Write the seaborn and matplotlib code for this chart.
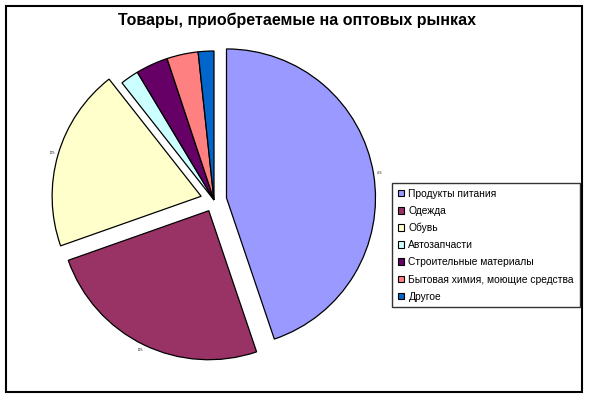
import matplotlib
matplotlib.use("Agg")
import matplotlib.pyplot as plt
import seaborn as sns
from matplotlib.patches import Rectangle

sns.set_theme(style="white")
plt.rcParams['font.family'] = ['Liberation Sans', 'DejaVu Sans']
plt.rcParams['text.color'] = 'black'

# data (percent of answers)
categories = ['Продукты питания', 'Одежда', 'Обувь', 'Автозапчасти',
              'Строительные материалы', 'Бытовая химия, моющие средства', 'Другое']
shares = [44.8, 24.8, 19.8, 2.0, 3.5, 3.4, 1.7]
colors = ['#9999FF', '#993366', '#FFFFCC', '#CCFFFF', '#660066', '#FF8080', '#0066CC']
explode = [0.085, 0.08, 0.09, 0, 0, 0, 0]

W, H = 589, 398
fig = plt.figure(figsize=(W / 100, H / 100), dpi=100)
fig.patch.set_facecolor('white')

# pie radius ~150 px, centre ~ (215, 201) px
r = 149
lim = 1.2
side = 2 * lim * r
cx, cy = 214, 200
ax = fig.add_axes([(cx - side / 2) / W, (H - cy - side / 2) / H, side / W, side / H])


def pct(v):
    return f'{v:.0f}%' if v > 10 else ''


wedges, texts, autotexts = ax.pie(
    shares, colors=colors, explode=explode, startangle=90, counterclock=False,
    radius=1, autopct=pct, pctdistance=1.04,
    wedgeprops=dict(edgecolor='black', linewidth=0.9),
    textprops=dict(fontsize=2, color='black'))
ax.set_xlim(-lim, lim)
ax.set_ylim(-lim, lim)
ax.set_aspect('equal')
ax.axis('off')

fig.text(297 / W, 1 - 20 / H, 'Товары, приобретаемые на оптовых рынках',
         ha='center', va='center', fontsize=11.5, fontweight='bold', color='black')

leg = fig.legend(wedges, categories, loc='upper left',
                 bbox_to_anchor=(392 / W, 1 - 183 / H), borderaxespad=0,
                 fontsize=7.4, frameon=True, fancybox=False, edgecolor='black',
                 handlelength=0.65, handleheight=0.65, handletextpad=0.4,
                 labelspacing=0.69, borderpad=0.55, labelcolor='black')
leg.get_frame().set_linewidth(1.0)
for h in leg.legend_handles:
    h.set_linewidth(0.8)

fig.patches.append(Rectangle((6 / W, 1 - 392 / H), 576 / W, 386 / H,
                             transform=fig.transFigure, fill=False,
                             edgecolor='black', linewidth=1.5))

fig.savefig('out.png', dpi=100)
